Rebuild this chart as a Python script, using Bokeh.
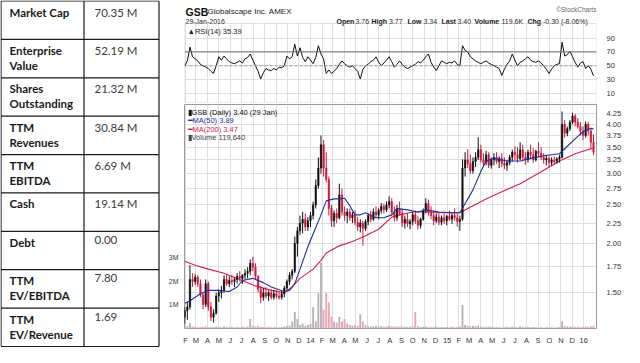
import pandas as pd
from bokeh.plotting import figure
from bokeh.layouts import row, column
from bokeh.models import (Range1d, LinearAxis, LinearScale, FixedTicker, PrintfTickFormatter,
                          Label, ColumnDataSource, Span, BoxAnnotation)
from bokeh.core.properties import value
from bokeh.embed import file_html
from bokeh.resources import INLINE

# ---------------- data ----------------
table_labels = ["Market Cap", "Enterprise\nValue", "Shares\nOutstanding", "TTM\nRevenues",
                "TTM\nEBITDA", "Cash", "Debt", "TTM\nEV/EBITDA", "TTM\nEV/Revenue"]
table_values = ["70.35 M", "52.19 M", "21.32 M", "30.84 M", "6.69 M", "19.14 M",
                "0.00", "7.80", "1.69"]

first_week = "2013-01-30"   # one bar per trading week (Wednesday)
week_open = [1.30,1.35,1.38,1.62,1.60,1.64,1.58,1.48,1.40,1.58,1.38,1.30,1.33,1.47,1.50,1.52,1.62,1.58,1.61,1.60,
             1.62,1.65,1.63,1.66,1.68,1.70,1.78,1.74,1.65,1.53,1.46,1.50,1.47,1.50,1.46,1.49,1.47,1.46,1.49,1.54,
             1.60,1.66,1.70,2.00,2.15,2.25,2.30,2.20,2.28,2.35,2.50,2.80,3.10,3.55,3.10,2.90,2.45,2.28,2.38,2.32,
             2.65,2.40,2.35,2.40,2.32,2.36,2.26,2.20,2.25,2.18,2.27,2.35,2.30,2.40,2.36,2.42,2.48,2.43,2.50,2.55,
             2.40,2.32,2.45,2.38,2.25,2.30,2.24,2.27,2.36,2.28,2.22,2.30,2.42,2.52,2.40,2.35,2.28,2.33,2.26,2.32,
             2.28,2.34,2.30,2.35,2.32,2.27,2.30,3.10,3.25,3.18,3.05,3.22,3.30,3.45,3.25,3.20,3.35,3.15,3.25,3.30,
             3.22,3.28,3.18,3.15,3.20,3.30,3.40,3.35,3.28,3.45,3.30,3.25,3.40,3.35,3.25,3.42,3.38,3.30,3.25,3.28,
             3.20,3.25,3.22,3.27,3.30,4.00,3.80,3.90,4.05,4.20,4.05,3.95,3.85,3.75,4.00,3.85,3.60]
week_high = [1.38,1.42,1.76,1.68,1.67,1.66,1.62,1.50,1.62,1.60,1.42,1.36,1.50,1.53,1.56,1.66,1.67,1.65,1.66,1.64,
             1.68,1.70,1.67,1.72,1.74,1.82,1.85,1.78,1.66,1.56,1.54,1.55,1.52,1.53,1.52,1.52,1.50,1.51,1.56,1.62,
             1.69,1.72,2.08,2.20,2.35,2.40,2.38,2.33,2.40,2.55,2.90,3.30,3.75,3.65,3.40,2.95,2.50,2.42,2.45,2.83,
             2.75,2.48,2.45,2.45,2.40,2.42,2.33,2.30,2.28,2.30,2.38,2.42,2.45,2.48,2.45,2.53,2.52,2.55,2.63,2.60,
             2.48,2.50,2.55,2.45,2.35,2.38,2.30,2.40,2.42,2.34,2.32,2.45,2.60,2.58,2.48,2.42,2.38,2.40,2.35,2.38,
             2.36,2.42,2.38,2.45,2.38,2.35,3.26,3.40,3.46,3.35,3.30,3.40,3.71,3.55,3.38,3.43,3.40,3.30,3.38,3.40,
             3.32,3.38,3.30,3.25,3.35,3.45,3.52,3.50,3.60,3.55,3.40,3.45,3.55,3.48,3.45,3.60,3.50,3.38,3.35,3.32,
             3.30,3.32,3.30,3.35,4.31,4.10,3.95,4.10,4.28,4.25,4.15,4.05,3.95,4.07,4.05,3.92,3.77]
week_low = [1.25,1.28,1.36,1.55,1.57,1.55,1.46,1.36,1.38,1.35,1.27,1.26,1.32,1.42,1.45,1.50,1.56,1.55,1.57,1.55,
            1.58,1.60,1.58,1.62,1.63,1.66,1.70,1.62,1.50,1.41,1.43,1.45,1.43,1.44,1.44,1.45,1.44,1.44,1.46,1.52,
            1.57,1.62,1.68,1.85,2.10,2.12,2.15,2.15,2.20,2.30,2.45,2.75,3.00,2.95,2.85,2.35,2.20,2.20,2.25,2.30,
            2.35,2.28,2.25,2.28,2.25,2.22,2.15,2.13,1.97,2.15,2.22,2.26,2.28,2.32,2.30,2.38,2.38,2.40,2.45,2.35,
            2.27,2.28,2.35,2.20,2.18,2.20,2.17,2.22,2.24,2.17,2.18,2.28,2.38,2.35,2.30,2.22,2.25,2.22,2.22,2.24,
            2.22,2.28,2.24,2.28,2.20,2.15,2.28,2.95,3.10,3.00,3.00,3.12,3.25,3.20,3.12,3.15,3.10,3.09,3.15,3.18,
            3.10,3.12,3.08,3.05,3.15,3.22,3.25,3.20,3.25,3.25,3.16,3.20,3.28,3.20,3.22,3.30,3.25,3.18,3.15,3.12,
            3.15,3.16,3.18,3.20,3.28,3.70,3.73,3.85,4.00,3.95,3.90,3.75,3.65,3.70,3.75,3.46,3.34]
week_close = [1.35,1.38,1.62,1.60,1.64,1.58,1.48,1.40,1.58,1.38,1.30,1.33,1.47,1.50,1.52,1.62,1.58,1.61,1.60,1.62,
              1.65,1.63,1.66,1.68,1.70,1.78,1.74,1.65,1.53,1.46,1.50,1.47,1.50,1.46,1.49,1.47,1.46,1.49,1.54,1.60,
              1.66,1.70,2.00,2.15,2.25,2.30,2.20,2.28,2.35,2.50,2.80,3.10,3.55,3.10,2.90,2.45,2.28,2.38,2.32,2.65,
              2.40,2.35,2.40,2.32,2.36,2.26,2.20,2.25,2.18,2.27,2.35,2.30,2.40,2.36,2.42,2.48,2.43,2.50,2.55,2.40,
              2.32,2.45,2.38,2.25,2.30,2.24,2.27,2.36,2.28,2.22,2.30,2.42,2.52,2.40,2.35,2.28,2.33,2.26,2.32,2.28,
              2.34,2.30,2.35,2.32,2.27,2.30,3.10,3.25,3.18,3.05,3.22,3.30,3.45,3.25,3.20,3.35,3.15,3.25,3.30,3.22,
              3.28,3.18,3.15,3.20,3.30,3.40,3.35,3.28,3.45,3.30,3.25,3.40,3.35,3.25,3.42,3.38,3.30,3.25,3.28,3.20,
              3.25,3.22,3.27,3.30,4.00,3.80,3.90,4.05,4.20,4.05,3.95,3.85,3.75,4.00,3.85,3.60,3.40]
week_volume_m = [0.08,0.10,0.22,0.08,0.06,0.05,0.06,0.07,0.08,0.05,0.06,0.05,0.08,0.06,0.05,0.10,0.06,0.05,0.07,0.05,
                 0.06,0.05,0.07,0.05,0.08,0.40,0.12,0.08,0.10,0.07,0.06,0.05,0.06,0.05,0.05,0.06,0.05,0.06,0.08,0.10,
                 0.12,0.30,0.70,0.40,0.15,0.20,0.12,0.15,0.20,0.90,0.30,1.50,2.80,0.80,1.50,1.10,0.50,0.30,0.25,0.50,
                 0.30,0.40,0.20,0.15,0.12,0.15,0.12,0.60,0.30,0.15,0.10,0.08,0.10,0.12,0.08,0.10,0.07,0.08,0.12,0.10,
                 0.08,0.07,0.09,0.08,0.06,0.07,0.08,0.10,0.70,0.10,0.06,0.07,0.08,0.06,0.05,0.06,0.07,0.05,0.06,0.05,
                 0.06,0.05,0.06,0.05,0.06,0.08,1.00,0.15,0.12,0.10,0.12,0.10,0.12,0.08,0.07,0.06,0.08,0.06,0.05,0.06,
                 0.05,0.04,0.05,0.06,0.05,0.08,0.06,0.05,0.10,0.06,0.05,0.06,0.05,0.06,0.05,0.04,0.05,0.04,0.05,0.04,
                 0.05,0.04,0.05,0.06,0.30,0.12,0.08,0.07,0.09,0.06,0.07,0.05,0.06,0.08,0.06,0.10,0.12]
week_rsi = [50,57,77,63,60,57,52,50,48,46,42,39,50,63,58,64,60,56,54,53,
            55,57,54,60,62,67,58,50,42,31,40,46,44,43,46,44,48,47,50,64,
            60,63,81,64,76,62,56,63,58,53,62,79,67,60,39,44,39,42,46,52,
            57,53,50,48,50,46,42,31,45,50,52,56,58,63,55,50,54,58,63,56,
            48,52,57,52,48,46,48,50,52,56,54,58,63,67,55,48,43,50,57,55,
            53,55,54,57,52,50,79,72,70,63,60,57,55,53,55,57,54,52,50,48,
            46,36,45,52,57,67,58,50,55,57,60,63,58,56,55,57,54,50,45,39,
            45,50,52,53,84,64,66,71,63,55,48,54,56,46,50,45,35.39]
ma50_week = [0,2,6,9,13,17,20,22,26,30,33,38,40,42,44,47,49,52,54,57,59,61,63,65,67,69,73,76,79,81,
             85,89,92,97,102,105,110,113,115,118,123,128,132,137,143,146,150,152,155,156]
ma50_value = [1.41,1.43,1.49,1.52,1.52,1.51,1.55,1.61,1.63,1.59,1.55,1.51,1.52,1.58,1.72,1.96,2.11,2.36,2.56,2.59,
              2.59,2.60,2.49,2.36,2.36,2.39,2.32,2.32,2.36,2.45,2.43,2.40,2.43,2.40,2.39,2.39,2.73,3.04,3.23,3.28,
              3.23,3.23,3.28,3.33,3.37,3.52,3.73,3.83,3.91,3.89]
ma200_week = [0,4,9,15,21,27,33,38,41,44,49,52,54,59,64,69,74,79,82,87,93,99,105,110,115,120,128,137,143,149,155,156]
ma200_value = [1.80,1.76,1.72,1.68,1.62,1.56,1.52,1.50,1.55,1.63,1.72,1.81,1.89,1.97,2.02,2.09,2.17,2.33,2.36,2.40,
               2.40,2.39,2.39,2.49,2.59,2.68,2.83,3.06,3.23,3.37,3.47,3.47]

month_labels = ["F","M","A","M","J","J","A","S","O","N","D","14",
                "F","M","A","M","J","J","A","S","O","N","D","15",
                "F","M","A","M","J","J","A","S","O","N","D","16"]
price_ticks = [1.50,1.75,2.00,2.25,2.50,2.75,3.00,3.25,3.50,3.75,4.00,4.25]
rsi_ticks = [10,30,50,70,90]
vol_ticks = [1,2,3]
vol_tick_labels = ["1M","2M","3M"]

title_symbol = "GSB"
title_name = "Globalscape Inc. AMEX"
title_date = "29-Jan-2016"
quote_labels = ["Open","High","Low","Last","Volume","Chg"]
quote_values = ["3.76","3.77","3.34","3.40","119.6K","-0.30 (-8.06%)"]
last_price, last_ma50, last_ma200, last_rsi, last_volume = "3.40", "3.89", "3.47", "35.39", "119,640"

n = len(week_close)
assert all(len(a) == n for a in [week_open, week_high, week_low, week_volume_m, week_rsi])

BASE = pd.Timestamp("2013-01-01")
days = [(pd.Timestamp(first_week) + pd.Timedelta(days=7 * k) - BASE).days for k in range(n)]
ma50_days = [days[k] for k in ma50_week]
ma200_days = [days[k] for k in ma200_week]
tick_days = [(d - BASE).days for d in pd.date_range("2013-02-01", "2016-01-01", freq="MS")]

# ---------------- styling ----------------
ARIAL = "Liberation Sans"
UP, DOWN = "#111111", "#d2183f"
VUP, VDOWN = "#b4b4b4", "#f0a3b0"
BLUE, RED = "#1f2f9e", "#d61f48"
GRID = "#dedede"
BORDER = "#9a9a9a"

W_TABLE, W_CHART = 165, 459
xr = Range1d(28.4, 1129)

# ---------------- table ----------------
tab = figure(width=W_TABLE, height=347, x_range=Range1d(0, W_TABLE), y_range=Range1d(347, 0),
             title=None, toolbar_location=None, output_backend="svg", x_axis_location=None,
             y_axis_location=None, min_border=0, outline_line_color=None)
tab.grid.visible = False
row_h = 345.5 / len(table_labels)
tops = [0.5 + i * row_h for i in range(len(table_labels) + 1)]
tab.segment(x0=[0.5] * len(tops), x1=[158.5] * len(tops), y0=tops, y1=tops,
            line_color="#1a1a1a", line_width=1.2)
tab.segment(x0=[0.5, 83.5, 158.5], x1=[0.5, 83.5, 158.5], y0=[0.5] * 3, y1=[tops[-1]] * 3,
            line_color="#1a1a1a", line_width=1.2)
tab.text(x=[9] * len(table_labels), y=[t + 4.5 for t in tops[:-1]], text=table_labels,
         text_font=value("Lato"), text_font_style="bold", text_font_size="11.5px",
         text_baseline="top", text_line_height=1.15, text_color="#1a1a1a")
tab.text(x=[94] * len(table_values), y=[t + 4.5 for t in tops[:-1]], text=table_values,
         text_font=value("Lato"), text_font_size="11.5px",
         text_baseline="top", text_color="#3a3a3a")

# ---------------- RSI panel; the chart header sits in the blank band above it ----------------
RSI_TOP = 111
rsi = figure(width=W_CHART, height=104, x_range=xr, y_range=Range1d(-3, 144.2),
             title=None, toolbar_location=None, output_backend="svg", x_axis_location=None,
             y_axis_location="right", min_border_left=10, min_border_right=22,
             min_border_top=0, min_border_bottom=2, outline_line_color=None)
rsi.xgrid.ticker = FixedTicker(ticks=tick_days)
rsi.yaxis.ticker = FixedTicker(ticks=rsi_ticks)
rsi.grid.grid_line_color = GRID
for ax in rsi.yaxis:
    ax.axis_line_color = None
    ax.major_tick_line_color = None
    ax.major_label_standoff = 4
    ax.major_label_text_font_size = "7.5px"
    ax.major_label_text_font = ARIAL
    ax.major_label_text_color = "#333"
rsi.add_layout(BoxAnnotation(bottom=RSI_TOP, fill_color="white", fill_alpha=1, line_color=None,
                             level="underlay"))
rsi.add_layout(Span(location=70, dimension="width", line_color="#6e6e6e", line_width=1))
rsi.add_layout(Span(location=50, dimension="width", line_color="#9a9a9a", line_width=1, line_dash="3 2"))
rsi.add_layout(BoxAnnotation(top=RSI_TOP, fill_alpha=0, line_color=BORDER, line_width=1))
rsi.line(days, week_rsi, line_color="#111", line_width=1)
rsi.text(x=[xr.start], y=[RSI_TOP], text=["\u25b2RSI(14) " + last_rsi], x_offset=3, y_offset=3,
         text_baseline="top", text_font=value(ARIAL), text_font_size="7.5px", text_color="#222")
rsi.add_layout(Label(x=xr.end, y=float(last_rsi), x_offset=3, text=last_rsi, text_baseline="middle",
                     text_font=ARIAL, text_font_size="7.5px", text_color="#111",
                     border_line_color="#333", background_fill_color="white"))


def header(texts, dxs, dy, size, style="normal", color="#222", align="left"):
    rsi.text(x=[xr.start] * len(texts), y=[RSI_TOP] * len(texts), text=texts,
             x_offset=dxs, y_offset=dy, text_font=value(ARIAL), text_font_size=size,
             text_font_style=style, text_color=color, text_align=align, text_baseline="alphabetic")


header([title_symbol], [1], -12, "10.5px", "bold", "#111")
header([title_name], [23], -12, "8px")
header(["\u00a9StockCharts.com"], [426], -14, "6.5px", color="#666", align="right")
header([title_date], [1], -2.5, "7px")
header(quote_labels, [152, 187, 223, 257, 290, 343], -2.5, "7px", "bold", "#111")
header(quote_values, [171, 204.5, 239, 273, 317, 358.5], -2.5, "7px")
header(["\u25bc"], [411], -2.5, "6px", color=RED)

# ---------------- price panel ----------------
main = figure(width=W_CHART, height=243, x_range=xr, y_range=Range1d(1.217, 4.49), y_axis_type="log",
              title=None, toolbar_location=None, output_backend="svg", x_axis_location="below",
              y_axis_location="right", min_border_left=10, min_border_right=22,
              min_border_top=0, min_border_bottom=10, outline_line_color=BORDER)
main.grid.grid_line_color = GRID
main.xaxis.ticker = FixedTicker(ticks=tick_days)
main.xaxis.major_label_overrides = {d: lab for d, lab in zip(tick_days, month_labels)}
main.yaxis.ticker = FixedTicker(ticks=price_ticks)
main.yaxis.formatter = PrintfTickFormatter(format="%.2f")
for ax in list(main.xaxis) + list(main.yaxis):
    ax.axis_line_color = None
    ax.major_tick_line_color = None
    ax.major_label_text_font_size = "7.5px"
    ax.major_label_text_font = ARIAL
    ax.major_label_text_color = "#333"
main.xaxis.major_label_standoff = 1
main.yaxis.major_label_standoff = 4

main.extra_y_ranges = {"vol": Range1d(0, 9.5)}
main.extra_y_scales = {"vol": LinearScale()}
vaxis = LinearAxis(y_range_name="vol", ticker=FixedTicker(ticks=vol_ticks),
                   major_label_overrides={t: s for t, s in zip(vol_ticks, vol_tick_labels)},
                   axis_line_color=None, major_tick_line_color=None, major_label_standoff=0,
                   major_label_text_font_size="7px", major_label_text_font=ARIAL,
                   major_label_text_color="#333")
main.add_layout(vaxis, "left")

up = [c >= o for o, c in zip(week_open, week_close)]
src = ColumnDataSource(dict(
    day=days, h=week_high, l=week_low,
    top=[max(o, c) for o, c in zip(week_open, week_close)],
    bottom=[min(o, c) for o, c in zip(week_open, week_close)],
    vol=week_volume_m,
    color=[UP if u else DOWN for u in up],
    vcolor=[VUP if u else VDOWN for u in up]))
main.vbar(x="day", width=5, top="vol", bottom=0, y_range_name="vol", fill_color="vcolor",
          line_color=None, source=src)
main.line(ma200_days, ma200_value, line_color=RED, line_width=1.1)
main.segment(x0="day", y0="l", x1="day", y1="h", line_color="color", line_width=1, source=src)
main.vbar(x="day", width=4, top="top", bottom="bottom", fill_color="color", line_color="color",
          line_width=0.5, source=src)
main.line(ma50_days, ma50_value, line_color=BLUE, line_width=1.1)

leg = ColumnDataSource(dict(
    x=[xr.start] * 4, y=[4.49] * 4, dy=[3, 11.5, 20, 28.5],
    t=["\u25ae" + title_symbol + " (Daily) " + last_price + " (29 Jan)",
       "\u2501MA(50) " + last_ma50, "\u2501MA(200) " + last_ma200, "\u25aeVolume " + last_volume],
    c=["#111", BLUE, RED, "#444"]))
main.text(x="x", y="y", text="t", x_offset=3, y_offset="dy", text_color="c", source=leg,
          text_baseline="top", text_font=value(ARIAL), text_font_size="7.5px")

main.add_layout(Label(x=xr.end, y=float(last_ma50), x_offset=3, text=last_ma50, text_baseline="middle",
                      text_font=ARIAL, text_font_size="7.5px", text_color="#111",
                      border_line_color=BLUE, background_fill_color="white"))
main.add_layout(Label(x=xr.end, y=float(last_price), x_offset=3, text=last_price, text_baseline="middle",
                      text_font=ARIAL, text_font_size="7.5px", text_font_style="bold", text_color="#111",
                      border_line_color="#a0203a", background_fill_color="white"))
main.add_layout(Label(x=xr.end, y=0.11964, y_range_name="vol", x_offset=2, text=last_volume,
                      text_baseline="middle", text_font=ARIAL, text_font_size="6.5px", text_color="#111",
                      border_line_color="#333", background_fill_color="white"))

layout = row(tab, column(rsi, main))
open("out.html", "w").write(file_html(layout, INLINE))
